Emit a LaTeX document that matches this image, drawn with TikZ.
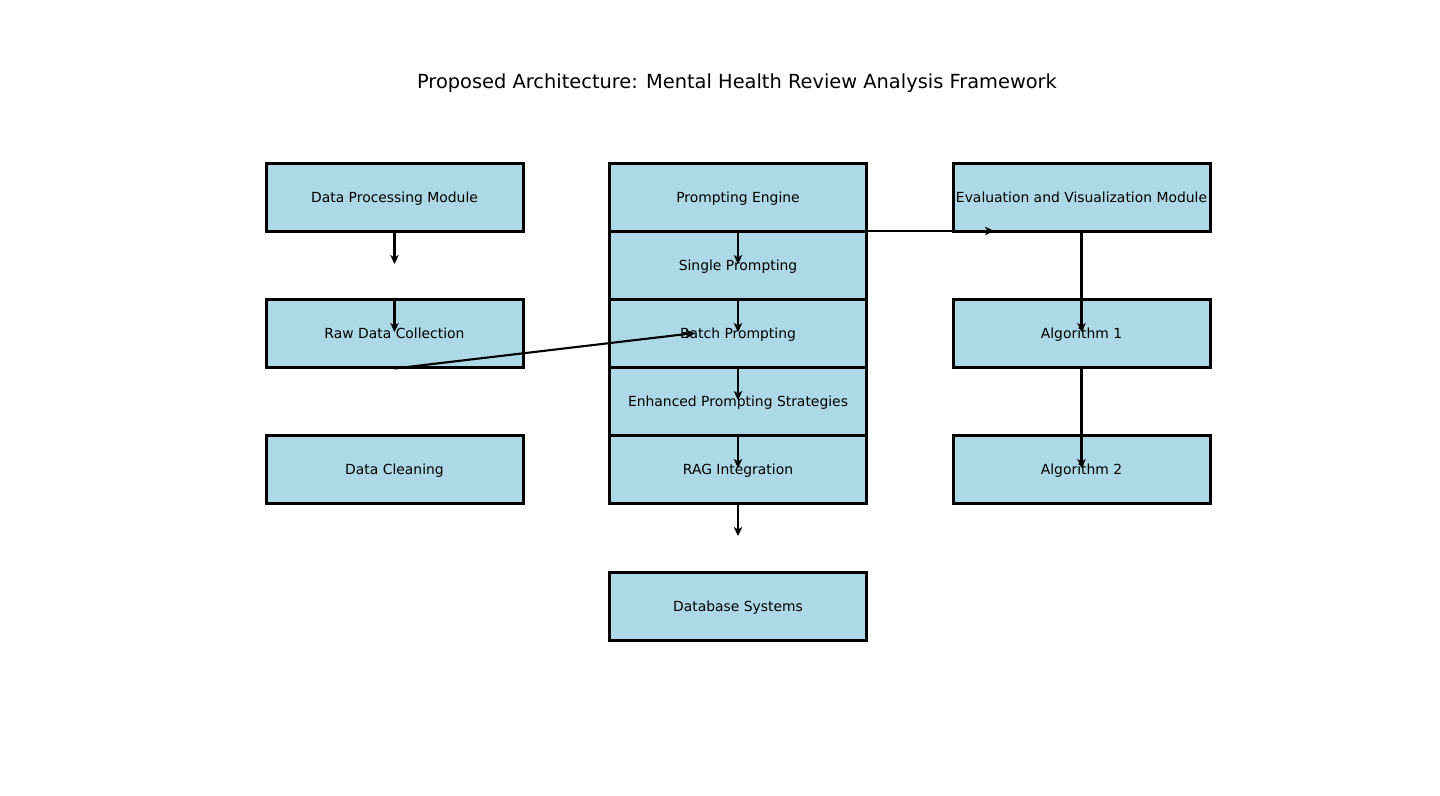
\documentclass[tikz,border=0pt]{standalone}
\usepackage{fontspec}
\setmainfont{DejaVu Sans}
\usetikzlibrary{arrows.meta}
\definecolor{boxblue}{HTML}{ADD8E6}
\tikzset{
  box/.style={draw=black, fill=boxblue, line width=3pt, minimum width=257pt, minimum height=68pt, inner sep=0pt, text height=14.6pt, text depth=3.3pt, font=\fontsize{13.9}{16}\selectfont},
  arr/.style={line width=2.1pt, -{Stealth[length=9pt,width=8.5pt,inset=2.5pt]}}
}
\begin{document}
\begin{tikzpicture}[x=1pt,y=-1pt]
\useasboundingbox (0,0) rectangle (1440,795);
\node[font=\fontsize{19.4}{22}\selectfont] (title) at (737,83) {Proposed Architecture: Mental Health Review Analysis Framework};
% left column
\node[box] (dpm) at (394.5,197) {Data Processing Module};
\node[box] (raw) at (394.5,333) {Raw Data Collection};
\node[box] (clean) at (394.5,469) {Data Cleaning};
% middle column
\node[box] (pe) at (738,197) {Prompting Engine};
\node[box] (sp) at (738,265) {Single Prompting};
\node[box] (bp) at (738,333) {Batch Prompting};
\node[box] (eps) at (738,401) {Enhanced Prompting Strategies};
\node[box] (rag) at (738,469) {RAG Integration};
\node[box] (db) at (738,606) {Database Systems};
% right column
\node[box] (evm) at (1081.5,197) {Evaluation and Visualization Module};
\node[box] (alg1) at (1081.5,333) {Algorithm 1};
\node[box] (alg2) at (1081.5,469) {Algorithm 2};
% free ends
\coordinate (e1) at (394.5,264);
\coordinate (e2) at (394.5,332);
\coordinate (e3) at (738,264);
\coordinate (e4) at (738,332);
\coordinate (e5) at (738,400);
\coordinate (e6) at (738,468);
\coordinate (e7) at (738,536);
\coordinate (e8) at (994,231);
\coordinate (e9) at (695,333);
\coordinate (e10) at (1081.5,332);
\coordinate (e11) at (1081.5,468);
% connectors
\draw[arr] (dpm.south) -- (e1);
\draw[arr] (raw.north) -- (e2);
\draw[arr] (pe.south) -- (e3);
\draw[arr] (sp.south) -- (e4);
\draw[arr] (bp.south) -- (e5);
\draw[arr] (eps.south) -- (e6);
\draw[arr] (rag.south) -- (e7);
\draw[arr] (e8 -| pe.south) -- (e8);
\draw[arr] (raw.south) -- (e9);
\draw[arr] (evm.south) -- (e10);
\draw[arr] (alg1.south) -- (e11);
\end{tikzpicture}
\end{document}
